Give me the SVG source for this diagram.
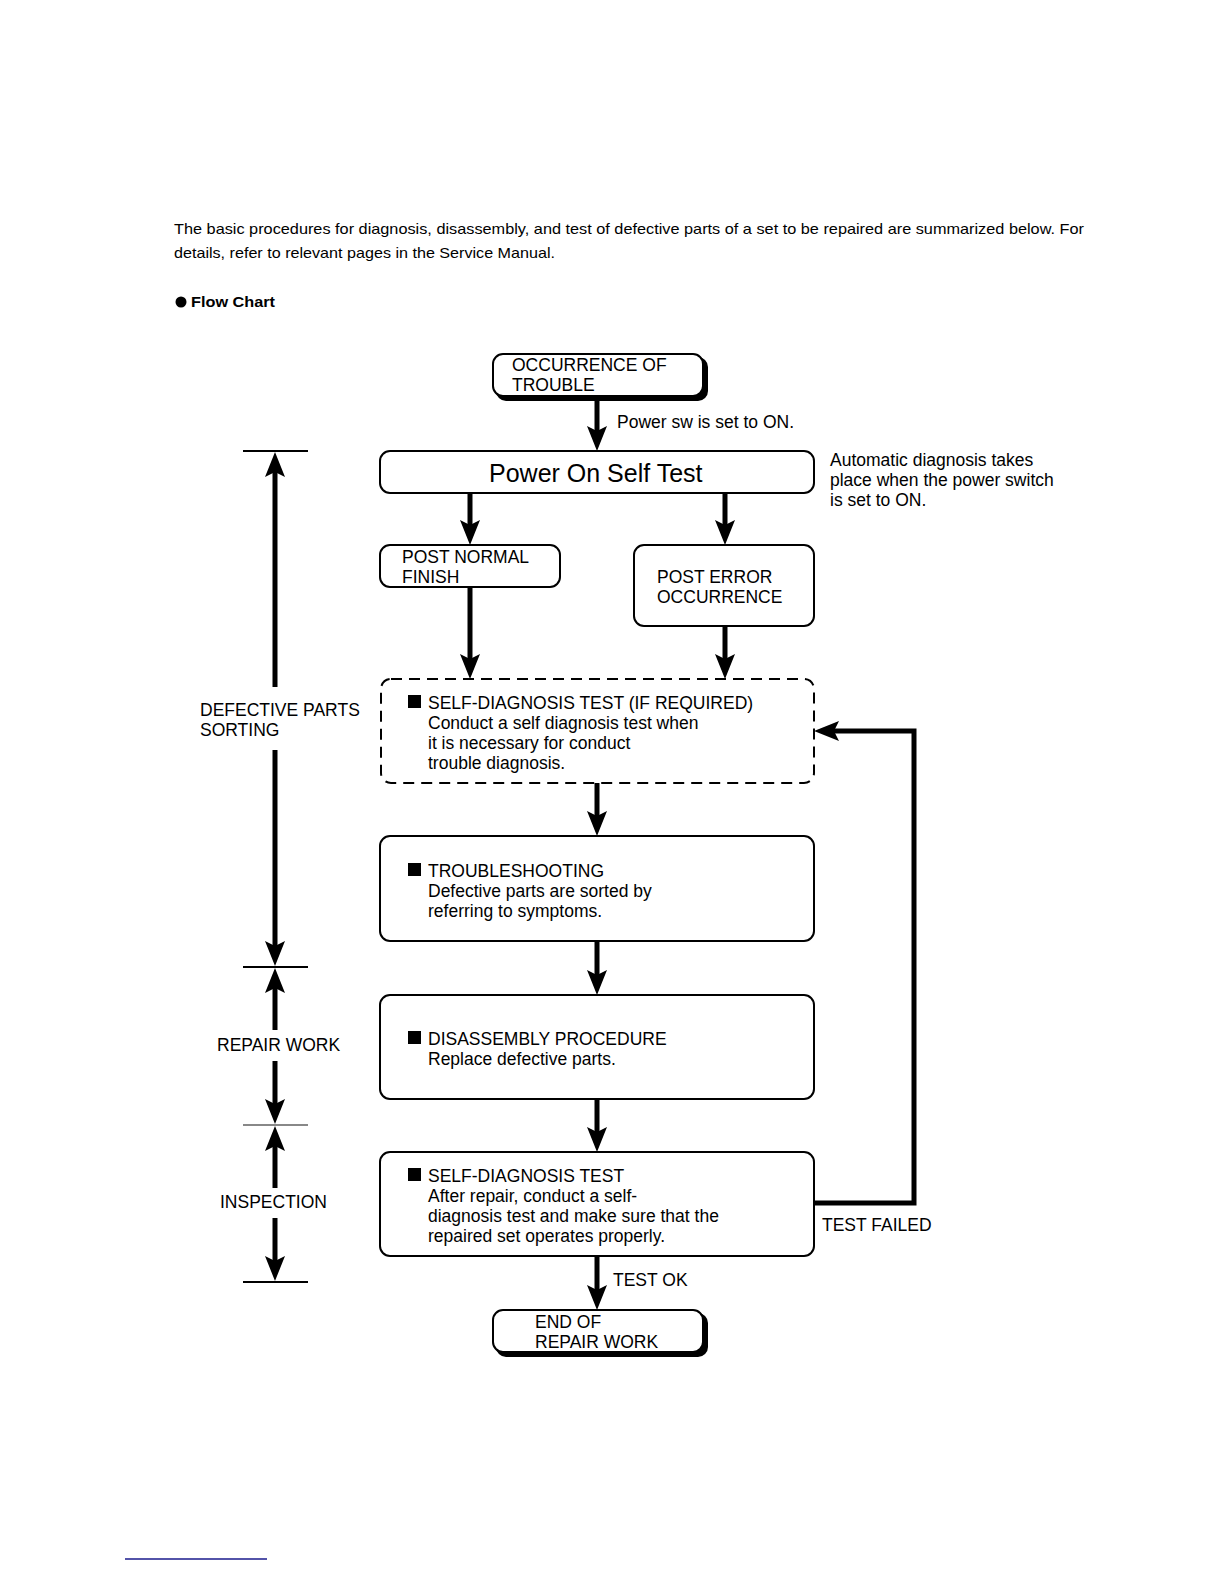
<svg xmlns="http://www.w3.org/2000/svg" xmlns:xlink="http://www.w3.org/1999/xlink" width="1224" height="1584" viewBox="0 0 1224 1584">
<style>
text{font-family:"Liberation Sans",Arial,sans-serif;fill:#000}
.t{font-size:17.5px}
.big{font-size:25px}
.intro{font-size:15px}
.box{fill:#fff;stroke:#000;stroke-width:2}
.shadow{fill:#000}
.dash{fill:none;stroke:#000;stroke-width:2;stroke-dasharray:11 7}
.ln{stroke:#000;stroke-width:5;fill:none}
.tick{stroke:#000;stroke-width:2}
.sq{fill:#000}
</style>
<defs>
<path id="ahd" d="M-10,-25 L0,0 L10,-25 L0,-20 Z" fill="#000"/>
</defs>
<rect width="1224" height="1584" fill="#fff"/>

<g id="intro">
<text class="intro" x="174" y="234" textLength="910" lengthAdjust="spacingAndGlyphs">The basic procedures for diagnosis, disassembly, and test of defective parts of a set to be repaired are summarized below. For</text>
<text class="intro" x="174" y="258" textLength="381" lengthAdjust="spacingAndGlyphs">details, refer to relevant pages in the Service Manual.</text>
<circle cx="181" cy="302" r="5.5" fill="#000"/>
<text class="intro" x="191" y="307" font-weight="bold" textLength="84" lengthAdjust="spacingAndGlyphs">Flow Chart</text>
</g>

<g id="connectors">
<line class="ln" x1="597" y1="398" x2="597" y2="432"/><use xlink:href="#ahd" x="597" y="451"/>
<line class="ln" x1="470" y1="493" x2="470" y2="526"/><use xlink:href="#ahd" x="470" y="545"/>
<line class="ln" x1="725" y1="493" x2="725" y2="526"/><use xlink:href="#ahd" x="725" y="545"/>
<line class="ln" x1="470" y1="587" x2="470" y2="660"/><use xlink:href="#ahd" x="470" y="679"/>
<line class="ln" x1="725" y1="626" x2="725" y2="660"/><use xlink:href="#ahd" x="725" y="679"/>
<line class="ln" x1="597" y1="783" x2="597" y2="817"/><use xlink:href="#ahd" x="597" y="836"/>
<line class="ln" x1="597" y1="941" x2="597" y2="976"/><use xlink:href="#ahd" x="597" y="995"/>
<line class="ln" x1="597" y1="1099" x2="597" y2="1133"/><use xlink:href="#ahd" x="597" y="1152"/>
<line class="ln" x1="597" y1="1256" x2="597" y2="1291"/><use xlink:href="#ahd" x="597" y="1310"/>
<polyline class="ln" points="814,1203 914,1203 914,731 833,731"/>
<use xlink:href="#ahd" transform="translate(814,731) rotate(90)"/>

<!-- left scale -->
<line class="tick" x1="243" y1="451" x2="308" y2="451"/>
<line class="tick" x1="243" y1="967" x2="308" y2="967"/>
<line x1="243" y1="1125" x2="308" y2="1125" stroke="#888" stroke-width="2"/>
<line class="tick" x1="243" y1="1282" x2="308" y2="1282"/>
<line class="ln" x1="275" y1="470" x2="275" y2="687"/><use xlink:href="#ahd" transform="translate(275,452) rotate(180)"/>
<line class="ln" x1="275" y1="750" x2="275" y2="948"/><use xlink:href="#ahd" x="275" y="966"/>
<line class="ln" x1="275" y1="986" x2="275" y2="1030"/><use xlink:href="#ahd" transform="translate(275,968) rotate(180)"/>
<line class="ln" x1="275" y1="1061" x2="275" y2="1106"/><use xlink:href="#ahd" x="275" y="1124"/>
<line class="ln" x1="275" y1="1144" x2="275" y2="1188"/><use xlink:href="#ahd" transform="translate(275,1126) rotate(180)"/>
<line class="ln" x1="275" y1="1218" x2="275" y2="1263"/><use xlink:href="#ahd" x="275" y="1281"/>
</g>

<g id="labels">
<text class="t" x="617" y="428">Power sw is set to ON.</text>
<text class="t" x="830" y="466">Automatic diagnosis takes</text>
<text class="t" x="830" y="486">place when the power switch</text>
<text class="t" x="830" y="506">is set to ON.</text>
<text class="t" x="822" y="1231">TEST FAILED</text>
<text class="t" x="613" y="1286">TEST OK</text>
<text class="t" x="200" y="716">DEFECTIVE PARTS</text>
<text class="t" x="200" y="736">SORTING</text>
<text class="t" x="217" y="1051">REPAIR WORK</text>
<text class="t" x="220" y="1208">INSPECTION</text>
</g>

<g id="occurrence">
<rect class="shadow" x="496" y="357" width="212" height="44" rx="10"/>
<rect class="box" x="493" y="354" width="210" height="42" rx="10"/>
<text class="t" x="512" y="371">OCCURRENCE OF</text>
<text class="t" x="512" y="391">TROUBLE</text>
</g>

<g id="post">
<rect class="box" x="380" y="451" width="434" height="42" rx="10"/>
<text class="big" x="489" y="482">Power On Self Test</text>
</g>

<g id="post-normal">
<rect class="box" x="380" y="545" width="180" height="42" rx="10"/>
<text class="t" x="402" y="563">POST NORMAL</text>
<text class="t" x="402" y="583">FINISH</text>
</g>

<g id="post-error">
<rect class="box" x="634" y="545" width="180" height="81" rx="10"/>
<text class="t" x="657" y="583">POST ERROR</text>
<text class="t" x="657" y="603">OCCURRENCE</text>
</g>

<g id="self-diag-req">
<rect class="dash" x="381" y="679" width="433" height="104" rx="10"/>
<rect class="sq" x="408" y="695" width="13" height="13"/>
<text class="t" x="428" y="709">SELF-DIAGNOSIS TEST (IF REQUIRED)</text>
<text class="t" x="428" y="729">Conduct a self diagnosis test when</text>
<text class="t" x="428" y="749">it is necessary for conduct</text>
<text class="t" x="428" y="769">trouble diagnosis.</text>
</g>

<g id="troubleshooting">
<rect class="box" x="380" y="836" width="434" height="105" rx="10"/>
<rect class="sq" x="408" y="863" width="13" height="13"/>
<text class="t" x="428" y="877">TROUBLESHOOTING</text>
<text class="t" x="428" y="897">Defective parts are sorted by</text>
<text class="t" x="428" y="917">referring to symptoms.</text>
</g>

<g id="disassembly">
<rect class="box" x="380" y="995" width="434" height="104" rx="10"/>
<rect class="sq" x="408" y="1031" width="13" height="13"/>
<text class="t" x="428" y="1045">DISASSEMBLY PROCEDURE</text>
<text class="t" x="428" y="1065">Replace defective parts.</text>
</g>

<g id="self-diag">
<rect class="box" x="380" y="1152" width="434" height="104" rx="10"/>
<rect class="sq" x="408" y="1168" width="13" height="13"/>
<text class="t" x="428" y="1182">SELF-DIAGNOSIS TEST</text>
<text class="t" x="428" y="1202">After repair, conduct a self-</text>
<text class="t" x="428" y="1222">diagnosis test and make sure that the</text>
<text class="t" x="428" y="1242">repaired set operates properly.</text>
</g>

<g id="end">
<rect class="shadow" x="496" y="1313" width="212" height="44" rx="10"/>
<rect class="box" x="493" y="1310" width="210" height="42" rx="10"/>
<text class="t" x="535" y="1328">END OF</text>
<text class="t" x="535" y="1348">REPAIR WORK</text>
</g>

<line x1="125" y1="1559" x2="267" y2="1559" stroke="#1a1a8c" stroke-width="1.5"/>
</svg>
